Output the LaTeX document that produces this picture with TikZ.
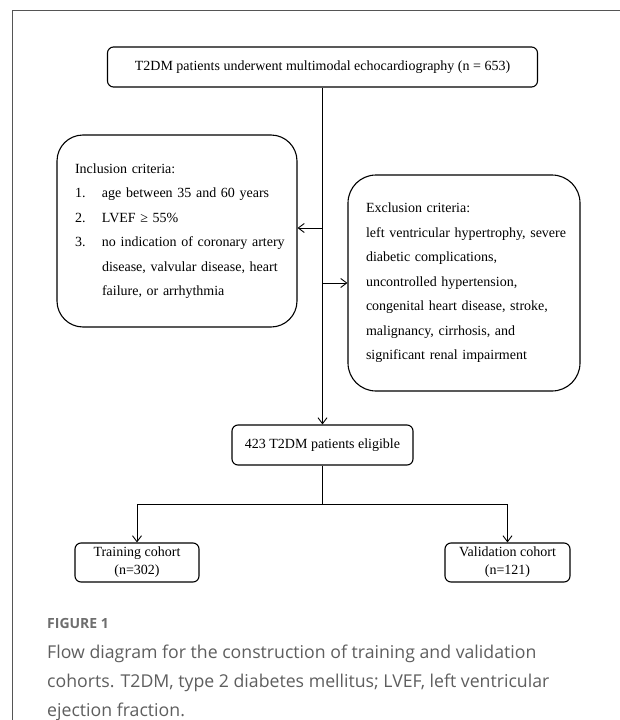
\documentclass[tikz,border=0pt]{standalone}
\usepackage{fontspec}
\setmainfont{Liberation Serif}
\newfontfamily\capfont{Open Sans}
\usetikzlibrary{arrows.meta}
\definecolor{framegray}{HTML}{555555}
\definecolor{capgray}{HTML}{5E5E5E}
\definecolor{figgray}{HTML}{6E6E6E}
\begin{document}
\begin{tikzpicture}[x=1pt,y=-1pt,
  box/.style={draw, line width=1.1pt, rounded corners=6pt, font=\fontsize{14pt}{18pt}\selectfont, inner sep=0pt, align=center},
  bigbox/.style={draw, line width=1.1pt, rounded corners=26pt, font=\fontsize{14pt}{24.5pt}\selectfont, inner xsep=18pt, inner ysep=0pt, align=left},
  conn/.style={line width=0.9pt},
  arr/.style={conn, -{Straight Barb[length=6pt,width=9pt]}},
  captext/.style={anchor=base west, inner sep=0pt, text=capgray, font=\capfont\fontsize{17.7pt}{29pt}\selectfont},
]
\useasboundingbox (0,0) rectangle (620,720);
\draw[framegray, line width=1pt] (12,725) -- (12,10) -- (625,10);

\node[box, minimum width=430pt, minimum height=40pt] (top) at (322.5,67) {T2DM patients underwent multimodal echocardiography (n = 653)};

\node[bigbox, text width=204pt, minimum height=192pt] (incl) at (177,231) {%
\mbox{Inclusion criteria:}\\
\makebox[27pt][l]{1.}\mbox{age between 35 and 60 years}\\
\makebox[27pt][l]{2.}\mbox{LVEF ≥ 55\%}\\
\makebox[27pt][l]{3.}\mbox{no indication of coronary artery}\\
\hspace*{27pt}\mbox{disease, valvular disease, heart}\\
\hspace*{27pt}\mbox{failure, or arrhythmia}};

\node[bigbox, text width=196pt, minimum height=216pt, rounded corners=28pt] (excl) at (464,283) {%
\mbox{Exclusion criteria:}\\
\mbox{left ventricular hypertrophy, severe}\\
\mbox{diabetic complications,}\\
\mbox{uncontrolled hypertension,}\\
\mbox{congenital heart disease, stroke,}\\
\mbox{malignancy, cirrhosis, and}\\
\mbox{significant renal impairment}};

\node[box, minimum width=181pt, minimum height=40pt] (elig) at (322.5,445) {423 T2DM patients eligible};
\node[box, minimum width=124pt, minimum height=39pt] (train) at (137,562.5) {Training cohort\\(n=302)};
\node[box, minimum width=125pt, minimum height=39pt] (valid) at (507.5,562.5) {Validation cohort\\(n=121)};

\coordinate (ia) at (322.5,228);
\coordinate (ea) at (322.5,283);
\coordinate (split) at (322.5,504);

\draw[arr] (top.south) -- (elig.north);
\draw[arr] (ia) -- (ia -| incl.east);
\draw[arr] (ea) -- (excl.west);
\draw[conn] (elig.south) -- (split);
\draw[arr] (split) -| (train.north);
\draw[arr] (split) -| (valid.north);

\node[anchor=base west, inner sep=0pt, text=figgray, font=\capfont\bfseries\fontsize{14pt}{16pt}\selectfont] (fig) at (47,628) {FIGURE 1};
\node[captext] (cap1) at (47,658) {Flow diagram for the construction of training and validation};
\node[captext] (cap2) at (47,687) {cohorts. T2DM, type 2 diabetes mellitus; LVEF, left ventricular};
\node[captext] (cap3) at (47,716) {ejection fraction.};
\end{tikzpicture}
\end{document}
